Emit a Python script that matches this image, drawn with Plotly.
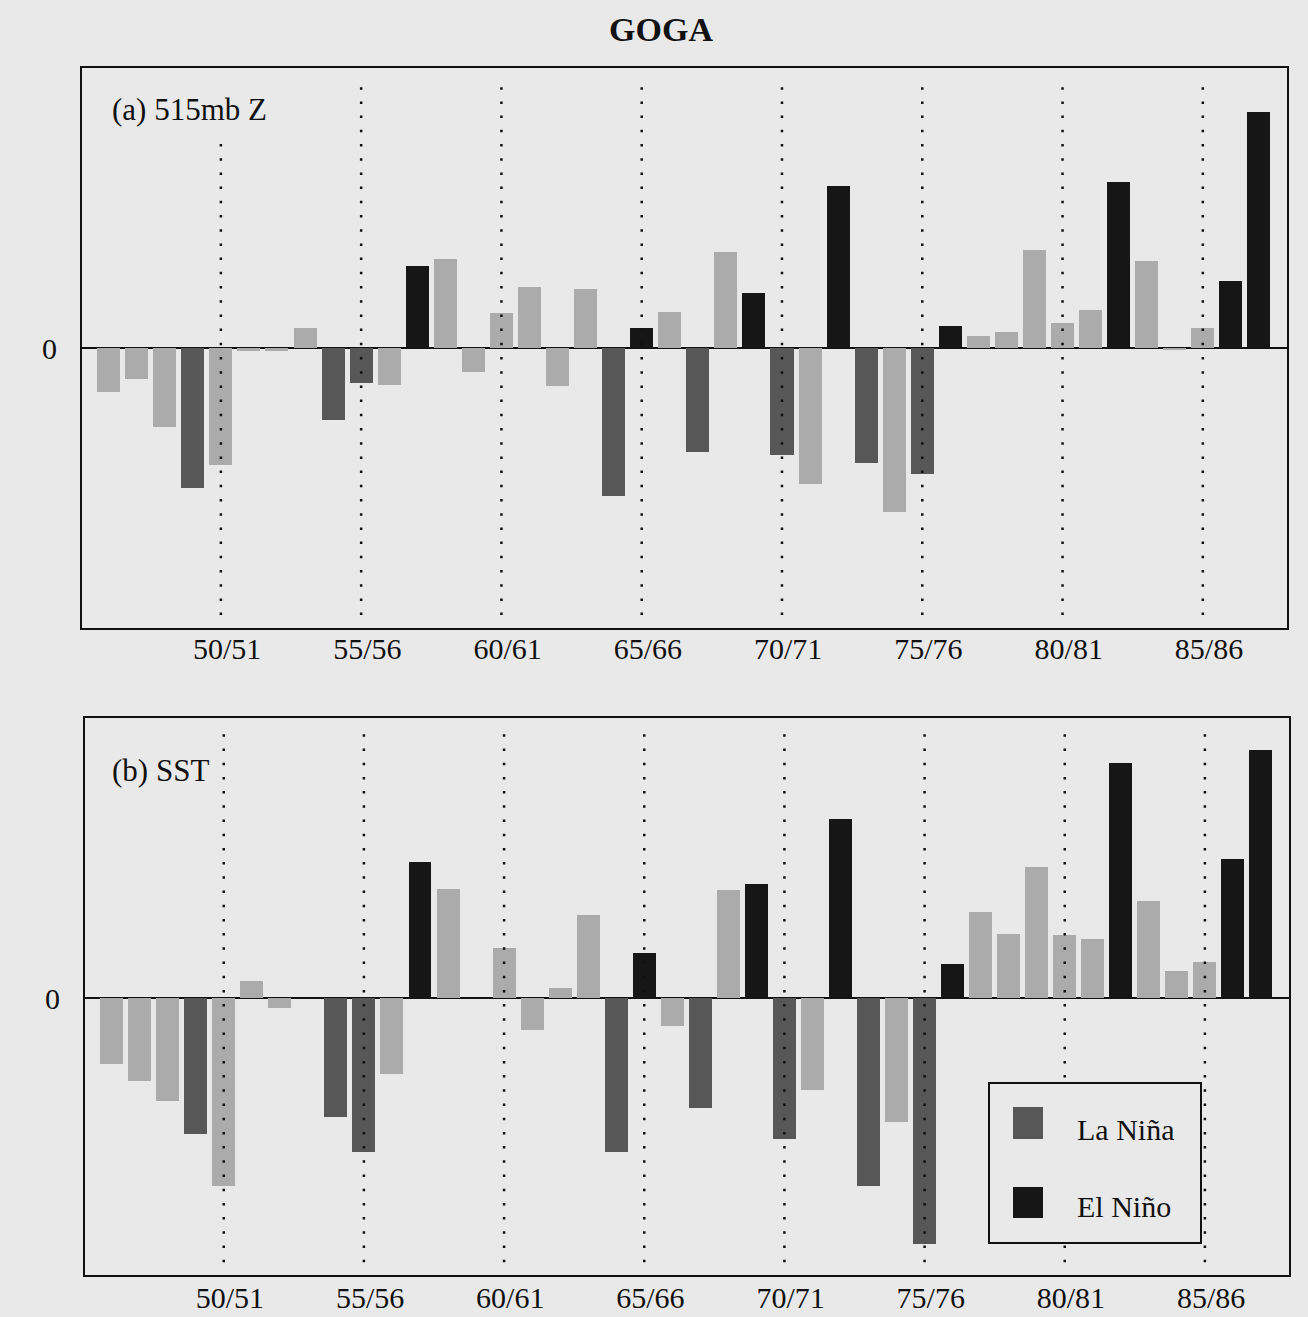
import plotly.graph_objects as go

# ---------------- data ----------------
years = list(range(1946, 1988))  # winter seasons 46/47 ... 87/88

# event type per season: N = neutral, L = La Niña, E = El Niño
event = ["N", "N", "N", "L", "N", "N", "N", "N", "L", "L",
         "N", "E", "N", "N", "N", "N", "N", "N", "L", "E",
         "N", "L", "N", "E", "L", "N", "E", "L", "N", "L",
         "E", "N", "N", "N", "N", "N", "E", "N", "N", "N",
         "E", "E"]

# (a) 515mb Z anomalies (arbitrary units)
z515 = [-0.44, -0.31, -0.79, -1.40, -1.17, -0.03, -0.03, 0.20, -0.72, -0.35,
        -0.37, 0.82, 0.89, -0.24, 0.35, 0.61, -0.38, 0.59, -1.48, 0.20,
        0.36, -1.04, 0.96, 0.55, -1.07, -1.36, 1.62, -1.15, -1.64, -1.26,
        0.22, 0.12, 0.16, 0.98, 0.25, 0.38, 1.66, 0.87, -0.02, 0.20,
        0.67, 2.36]

# (b) SST anomalies (arbitrary units)
sst = [-0.66, -0.83, -1.03, -1.36, -1.88, 0.17, -0.10, 0.0, -1.19, -1.54,
       -0.76, 1.36, 1.09, 0.0, 0.50, -0.32, 0.10, 0.83, -1.54, 0.45,
       -0.28, -1.10, 1.08, 1.14, -1.41, -0.92, 1.79, -1.88, -1.24, -2.46,
       0.34, 0.86, 0.64, 1.31, 0.63, 0.59, 2.35, 0.97, 0.27, 0.36,
       1.39, 2.48]

tick_years = [1950, 1955, 1960, 1965, 1970, 1975, 1980, 1985]
tick_text = ["50/51", "55/56", "60/61", "65/66", "70/71", "75/76", "80/81", "85/86"]

# ---------------- style ----------------
W, H = 1308, 1317
BG = "#e9e9e9"
COL = {"N": "#ababab", "L": "#575757", "E": "#161616"}
INK = "#111111"
FONT = "Liberation Serif, Times New Roman, serif"

def px_x(p):
    return p / W

def px_y(p):
    return 1 - p / H

fig = go.Figure()

panels = [
    dict(vals=z515, xa="x", ya="y", xdom=[px_x(82), px_x(1287)], ydom=[px_y(628), px_y(68)],
         yr=[-2.80, 2.80], label="(a) 515mb Z", lab_y=110, lab_bg=True, standoff=-7),
    dict(vals=sst, xa="x2", ya="y2", xdom=[px_x(85), px_x(1289)], ydom=[px_y(1275), px_y(718)],
         yr=[-2.77, 2.80], label="(b) SST", lab_y=770, lab_bg=False, standoff=-5),
]

for i, p in enumerate(panels):
    fig.add_trace(go.Bar(
        x=years, y=p["vals"], xaxis=p["xa"], yaxis=p["ya"],
        marker=dict(color=[COL[e] for e in event], line=dict(width=0)),
        width=0.82, showlegend=False, hoverinfo="x+y",
    ))
    sfx = "" if i == 0 else "2"
    fig.layout["xaxis" + sfx] = dict(
        domain=p["xdom"], range=[1945.05, 1988.0], anchor="y" + sfx,
        showline=True, mirror=True, linecolor=INK, linewidth=2,
        showgrid=False, zeroline=False, ticks="",
        tickvals=[t + 0.22 for t in tick_years], ticktext=tick_text,
        tickfont=dict(family=FONT, size=30, color=INK),
        ticklabelstandoff=p["standoff"],
    )
    fig.layout["yaxis" + sfx] = dict(
        domain=p["ydom"], range=p["yr"], anchor="x" + sfx,
        showline=True, mirror=True, linecolor=INK, linewidth=2,
        showgrid=False, zeroline=True, zerolinecolor=INK, zerolinewidth=2,
        ticks="", tickvals=[0], ticktext=["0"],
        tickfont=dict(family=FONT, size=30, color=INK),
        ticklabelstandoff=17,
    )
    # dotted reference lines at every fifth season
    for t in tick_years:
        fig.add_shape(type="line", xref=p["xa"], yref=p["ya"] + " domain",
                      x0=t, x1=t, y0=0.023, y1=0.979,
                      line=dict(color=INK, width=2.5, dash="2.5px,11.7px"))
    fig.add_annotation(
        text=p["label"], xref="paper", yref="paper",
        x=px_x(101), y=px_y(p["lab_y"]), xanchor="left", yanchor="middle",
        showarrow=False, font=dict(family=FONT, size=31, color=INK),
        bgcolor=BG if p["lab_bg"] else "rgba(0,0,0,0)", borderpad=10,
    )

# manual legend in panel (b)
fig.add_shape(type="rect", xref="paper", yref="paper",
              x0=px_x(989), x1=px_x(1201), y0=px_y(1243), y1=px_y(1083),
              line=dict(color=INK, width=2), fillcolor=BG)
for name, key, y0, y1, ty in [("La Niña", "L", 1107, 1139, 1129), ("El Niño", "E", 1187, 1218, 1206)]:
    fig.add_shape(type="rect", xref="paper", yref="paper",
                  x0=px_x(1013), x1=px_x(1043), y0=px_y(y1), y1=px_y(y0),
                  line=dict(width=0), fillcolor=COL[key])
    fig.add_annotation(text=name, xref="paper", yref="paper",
                       x=px_x(1075), y=px_y(ty), xanchor="left", yanchor="middle",
                       showarrow=False, font=dict(family=FONT, size=30, color=INK))

fig.update_layout(
    width=W, height=H,
    margin=dict(l=0, r=0, t=0, b=0),
    paper_bgcolor=BG, plot_bgcolor=BG,
    barmode="overlay", bargap=0,
    title=dict(text="<b>GOGA</b>", x=px_x(661), y=px_y(29), xanchor="center", yanchor="middle",
               font=dict(family=FONT, size=34, color=INK)),
    showlegend=False,
)

fig.write_html(
    "out.html",
    config={"displayModeBar": False},
    post_script="document.body.style.margin='0';document.body.style.background='#e9e9e9';",
)
